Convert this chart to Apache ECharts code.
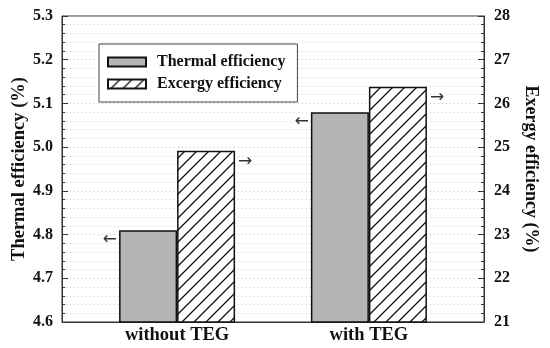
<!DOCTYPE html>
<html><head><meta charset="utf-8">
<script src="https://cdn.jsdelivr.net/npm/echarts@6/dist/echarts.min.js"></script>
<style>html,body{margin:0;padding:0;background:#fff}#c{width:550px;height:348px}</style>
</head><body><div id="c"></div>
<script>
const categories = ['without TEG', 'with TEG'];
const thermalEff = [4.81, 5.08];
const exergyEff = [24.92, 26.38];
const seriesNames = ['Thermal efficiency', 'Excergy efficiency'];
const F = '"Liberation Serif", "Times New Roman", serif';

function hatch() {
  const s = 12, c = document.createElement('canvas');
  c.width = s; c.height = s;
  const g = c.getContext('2d');
  g.fillStyle = '#fff'; g.fillRect(0, 0, s, s);
  g.strokeStyle = '#111'; g.lineWidth = 1.3;
  g.beginPath();
  g.moveTo(-2, s + 2); g.lineTo(s + 2, -2);
  g.moveTo(-2, 2); g.lineTo(2, -2);
  g.moveTo(s - 2, s + 2); g.lineTo(s + 2, s - 2);
  g.stroke();
  return c;
}

const chart = echarts.init(document.getElementById('c'));
const pos = categories.map((_, i) => i);
const tickStyle = {color: '#333'};
chart.setOption({
  animation: false,
  grid: {left: 62, right: 66, top: 16, bottom: 26, outerBoundsMode: 'none', containLabel: false, show: true, borderColor: '#333', borderWidth: 1, backgroundColor: 'transparent'},
  legend: {
    left: 99, top: 44, orient: 'vertical', icon: 'rect', itemWidth: 38, itemHeight: 9, itemGap: 6,
    padding: [10, 12, 10, 8], borderColor: '#444', borderWidth: 1, backgroundColor: '#fff',
    textStyle: {fontFamily: F, fontWeight: 'bold', fontSize: 16, color: '#111', padding: [0, 0, 0, 6]},
    data: seriesNames
  },
  xAxis: {
    type: 'value', min: -0.6, max: 1.6,
    axisLine: {show: true, onZero: false, lineStyle: tickStyle}, axisTick: {show: false}, splitLine: {show: false},
    axisLabel: {customValues: pos, formatter: v => categories[Math.round(v)] || '', fontFamily: F, fontWeight: 'bold', fontSize: 18.5, color: '#111', margin: 4}
  },
  yAxis: [{
    type: 'value', min: 4.6, max: 5.3, interval: 0.1,
    name: 'Thermal efficiency (%)', nameLocation: 'middle', nameGap: 33, nameMoveOverlap: false,
    nameTextStyle: {fontFamily: F, fontWeight: 'bold', fontSize: 18.5, color: '#111'},
    axisLine: {show: true, onZero: false, lineStyle: tickStyle},
    axisTick: {show: true, inside: true, length: 6, lineStyle: tickStyle},
    minorTick: {show: true, splitNumber: 5, length: 3, lineStyle: tickStyle},
    splitLine: {show: true, lineStyle: {color: '#c4c4c4', type: [1, 3]}},
    minorSplitLine: {show: true, lineStyle: {color: '#d0d0d0', type: [1, 3]}},
    axisLabel: {formatter: v => v.toFixed(1), fontFamily: F, fontWeight: 'bold', fontSize: 16, color: '#111', margin: 9}
  }, {
    type: 'value', min: 21, max: 28, interval: 1, position: 'right',
    name: 'Exergy efficiency (%)', nameLocation: 'middle', nameGap: 38, nameRotate: -90,
    nameTextStyle: {fontFamily: F, fontWeight: 'bold', fontSize: 18, color: '#111'},
    axisLine: {show: true, onZero: false, lineStyle: tickStyle},
    axisTick: {show: true, inside: true, length: 6, lineStyle: tickStyle},
    minorTick: {show: true, splitNumber: 5, length: 3, lineStyle: tickStyle},
    splitLine: {show: false},
    axisLabel: {fontFamily: F, fontWeight: 'bold', fontSize: 16, color: '#111', margin: 10}
  }],
  series: [{
    name: seriesNames[0], type: 'bar', yAxisIndex: 0, barWidth: 58, barGap: '0%',
    data: pos.map((p, i) => [p, thermalEff[i]]),
    itemStyle: {color: '#b5b5b5', borderColor: '#111', borderWidth: 1.5},
    label: {show: true, formatter: '\u2190', position: [-2, 9], align: 'right', verticalAlign: 'middle', fontSize: 17, color: '#333', fontFamily: 'DejaVu Sans'}
  }, {
    name: seriesNames[1], type: 'bar', yAxisIndex: 1, barWidth: 58, barGap: '0%',
    data: pos.map((p, i) => [p, exergyEff[i]]),
    itemStyle: {color: {image: hatch(), repeat: 'repeat'}, borderColor: '#111', borderWidth: 1.5},
    label: {show: true, formatter: '\u2192', position: ['100%', 11], offset: [3, 0], align: 'left', verticalAlign: 'middle', fontSize: 17, color: '#333', fontFamily: 'DejaVu Sans'}
  }]
});
</script></body></html>
